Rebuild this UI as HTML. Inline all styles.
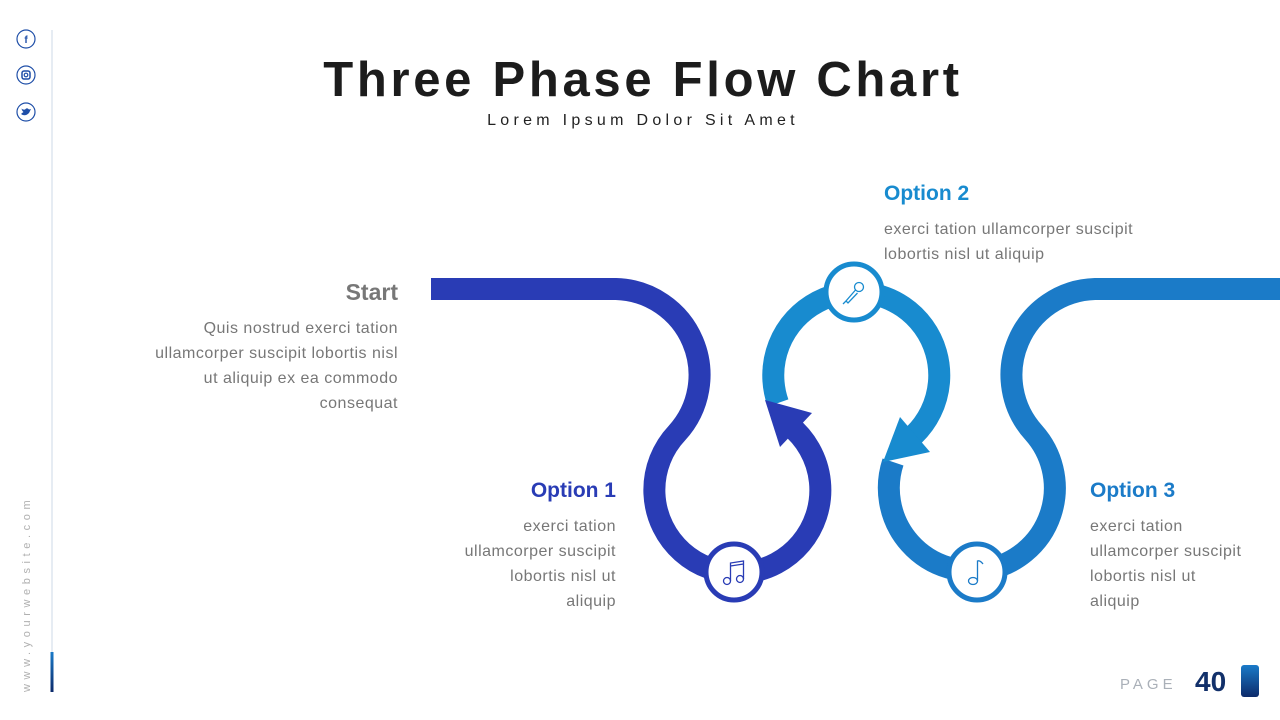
<!DOCTYPE html>
<html><head><meta charset="utf-8"><style>
html,body{margin:0;padding:0;background:#fff;}
svg{display:block;}
text{font-family:"Liberation Sans",sans-serif;}
</style></head><body>
<svg width="1280" height="720" viewBox="0 0 1280 720" xmlns="http://www.w3.org/2000/svg">
<defs>
<linearGradient id="g1" x1="0" y1="0" x2="0" y2="1"><stop offset="0" stop-color="#1a7ac8"/><stop offset="1" stop-color="#0c2a6a"/></linearGradient>
</defs>
<line x1="52" y1="30" x2="52" y2="692" stroke="#dde6ef" stroke-width="1.5"/>
<rect x="50.5" y="652" width="3" height="40" fill="url(#g1)"/>
<g fill="none" stroke="#1f4fa8" stroke-width="1.2">
<circle cx="26" cy="39" r="9"/><circle cx="26" cy="75" r="9"/><circle cx="26" cy="112" r="9"/>
</g>
<text x="26" y="43" font-size="10" font-weight="bold" fill="#1f4fa8" text-anchor="middle">f</text>
<rect x="22" y="71" width="8" height="8" rx="2" fill="none" stroke="#1f4fa8" stroke-width="1.5"/>
<circle cx="26" cy="75" r="1.8" fill="none" stroke="#1f4fa8" stroke-width="1.2"/>
<path d="M21 114 Q25 117 29 113 L31 109 L29 109.5 Q27 107 25 109.5 Q23 110 21.5 108.5 Q22 111 23.5 112 Q22 113 21 114Z" fill="#1f4fa8"/>
<text transform="translate(30,692) rotate(-90)" font-size="11" fill="#b0b0b0" letter-spacing="4.6">www.yourwebsite.com</text>
<text x="643" y="96" font-size="49" font-weight="bold" fill="#1c1c1c" text-anchor="middle" letter-spacing="3.7">Three Phase Flow Chart</text>
<text x="643" y="125" font-size="16" fill="#222" text-anchor="middle" letter-spacing="4.3">Lorem Ipsum Dolor Sit Amet</text>
<g fill="none" stroke-width="22">
<path d="M431,289 H616 A86,86 0 0 1 677,433 A83,83 0 1 0 789,425" stroke="#293cb5"/>
<path d="M778,403 A83,83 0 1 1 914,435" stroke="#188bcf"/>
<path d="M893,462 A83,83 0 1 0 1034,433 A86,86 0 0 1 1095,289 H1280" stroke="#1b7bc8"/>
</g>
<polygon points="765,400 812,413 780,447" fill="#293cb5"/>
<polygon points="900,417 930,452 883,462" fill="#188bcf"/>
<circle cx="734" cy="572" r="28" fill="#fff" stroke="#293cb5" stroke-width="5"/>
<circle cx="854" cy="292" r="28" fill="#fff" stroke="#188bcf" stroke-width="5"/>
<circle cx="977" cy="572" r="28" fill="#fff" stroke="#1b7bc8" stroke-width="5"/>
<g fill="none" stroke="#293cb5" stroke-width="1.3">
<circle cx="727" cy="581" r="3.5"/><circle cx="740" cy="579" r="3.5"/>
<path d="M730.5,581 V563 L743.5,561 V579 M730.5,566 L743.5,564"/>
</g>
<g fill="none" stroke="#1b7bc8" stroke-width="1.3">
<ellipse cx="973" cy="581" rx="4.5" ry="3.5"/>
<path d="M977.5,581 V561 Q980,560 983,564"/>
</g>
<g fill="none" stroke="#188bcf" stroke-width="1.3">
<circle cx="859" cy="287" r="4.5"/>
<path d="M855.5,290 L846,301 L848,303 L857.5,293 M846,301 L843,304"/>
</g>
<g font-size="16" fill="#777" letter-spacing="0.5">
<text x="398" y="300" font-size="23" font-weight="bold" fill="#777" text-anchor="end" letter-spacing="0">Start</text>
<text x="398" y="333" text-anchor="end">Quis nostrud exerci tation</text>
<text x="398" y="358" text-anchor="end">ullamcorper suscipit lobortis nisl</text>
<text x="398" y="383" text-anchor="end">ut aliquip ex ea commodo</text>
<text x="398" y="408" text-anchor="end">consequat</text>
<text x="616" y="497" font-size="21" font-weight="bold" fill="#293cb5" text-anchor="end" letter-spacing="0">Option 1</text>
<text x="616" y="531" text-anchor="end">exerci tation</text>
<text x="616" y="556" text-anchor="end">ullamcorper suscipit</text>
<text x="616" y="581" text-anchor="end">lobortis nisl ut</text>
<text x="616" y="606" text-anchor="end">aliquip</text>
<text x="884" y="200" font-size="21" font-weight="bold" fill="#188bcf" letter-spacing="0">Option 2</text>
<text x="884" y="234">exerci tation ullamcorper suscipit</text>
<text x="884" y="259">lobortis nisl ut aliquip</text>
<text x="1090" y="497" font-size="21" font-weight="bold" fill="#1b7bc8" letter-spacing="0">Option 3</text>
<text x="1090" y="531">exerci tation</text>
<text x="1090" y="556">ullamcorper suscipit</text>
<text x="1090" y="581">lobortis nisl ut</text>
<text x="1090" y="606">aliquip</text>
</g>
<text x="1120" y="689" font-size="15" fill="#aab0b8" letter-spacing="4">PAGE</text>
<text x="1195" y="691" font-size="28" font-weight="bold" fill="#12306a">40</text>
<rect x="1241" y="665" width="18" height="32" rx="3" fill="url(#g1)"/>
</svg>
</body></html>
